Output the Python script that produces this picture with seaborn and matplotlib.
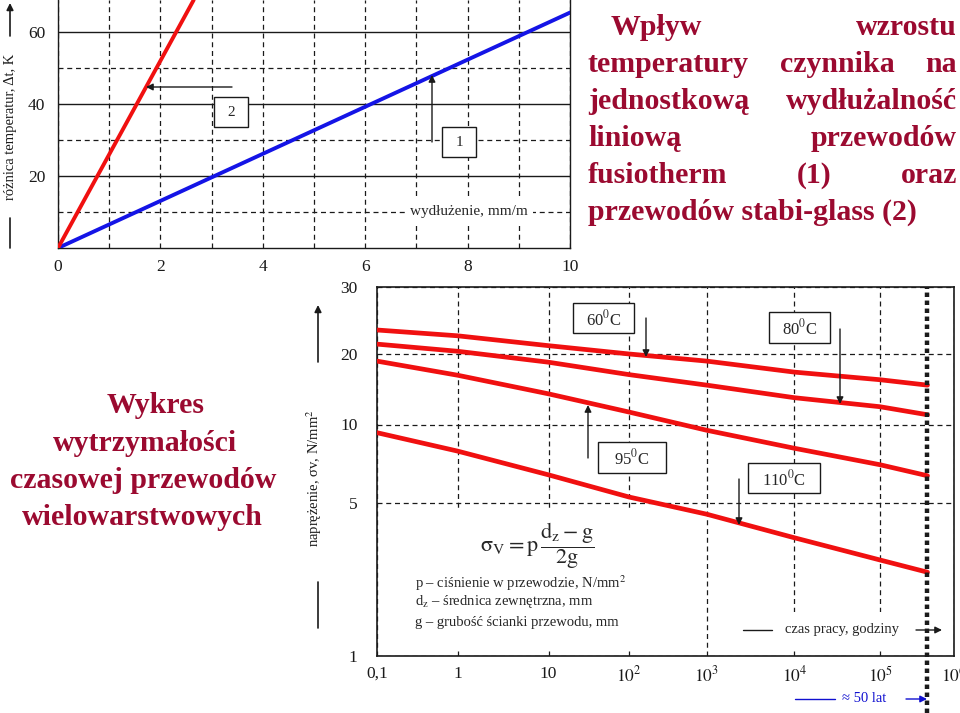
import numpy as np
import pandas as pd
import matplotlib
matplotlib.use('Agg')
import matplotlib.pyplot as plt
from matplotlib.patches import Rectangle
from matplotlib.lines import Line2D
import seaborn as sns

# ---------------- data ----------------
# top chart: temperature difference vs. unit elongation
elongation_fusiotherm = [0.0, 10.0]     # mm/m  (1)
dt_fusiotherm = [0.0, 65.5]             # K
elongation_stabi = [0.0, 2.65]          # mm/m  (2)
dt_stabi = [0.0, 69.0]                  # K
top_xticks = [0, 2, 4, 6, 8, 10]
top_yticks = [20, 40, 60]

# bottom chart: long-term strength of multilayer pipes
hours = [0.1, 1, 10, 100, 1e3, 1e4, 1e5, 4.38e5]
stress_60 = [23.1, 22.3, 21.0, 19.95, 18.6, 16.7, 15.5, 14.7]
stress_80 = [21.2, 20.3, 18.4, 16.3, 14.7, 13.0, 11.9, 11.0]
stress_95 = [18.6, 16.2, 13.5, 11.3, 9.5, 8.1, 7.0, 6.35]
stress_110 = [9.3, 7.9, 6.4, 5.26, 4.43, 3.46, 2.74, 2.41]
temperatures = ['60', '80', '95', '110']
fifty_years_hours = 438000
bottom_xticks = [0.1, 1, 10, 100, 1e3, 1e4, 1e5, 1e6]
bottom_xticklabels = ['0,1', '1', '10', '$10^2$', '$10^3$', '$10^4$', '$10^5$', '$10^6$']
bottom_yticks = [1, 5, 10, 20, 30]
bottom_yticklabels = ['1', '5', '10', '20', '30']

# calibration of the (hand drawn, non-uniform) logarithmic axes of the original
x_cal_log = [-1, 0, 1, 2, 3, 4, 5, 6]
x_cal_pos = [0, 80.6, 171.6, 252, 330, 417.6, 503.3, 577.3]
y_cal_log = [0, np.log10(5), 1, np.log10(20), np.log10(30)]
y_cal_pos = [0, 153.3, 231.5, 302.3, 369]

# ---------------- style ----------------
sns.set_theme(style='white')
plt.rcParams['font.family'] = ['Liberation Serif', 'DejaVu Sans']
plt.rcParams['mathtext.fontset'] = 'stix'
RED = '#f01010'
BLUE = '#1414e6'
TITLE = '#9b0a30'
DASH = (0, (4, 3))

W, H = 960, 713
fig = plt.figure(figsize=(9.6, 7.13), dpi=100)
fig.patch.set_facecolor('white')


def P(px, py):
    return (px / W, 1 - py / H)


def axes_rect(l, t, r, b):
    return [l / W, 1 - b / H, (r - l) / W, (b - t) / H]


def cal_scale(logs, pos):
    logs = np.asarray(logs, float)
    pos = np.asarray(pos, float)
    s0 = (pos[1] - pos[0]) / (logs[1] - logs[0])
    s1 = (pos[-1] - pos[-2]) / (logs[-1] - logs[-2])

    def fwd(v):
        lv = np.log10(np.clip(np.asarray(v, float), 1e-300, None))
        out = np.interp(lv, logs, pos)
        out = np.where(lv < logs[0], pos[0] + (lv - logs[0]) * s0, out)
        out = np.where(lv > logs[-1], pos[-1] + (lv - logs[-1]) * s1, out)
        return out

    def inv(p):
        p = np.asarray(p, float)
        lv = np.interp(p, pos, logs)
        lv = np.where(p < pos[0], logs[0] + (p - pos[0]) / s0, lv)
        lv = np.where(p > pos[-1], logs[-1] + (p - pos[-1]) / s1, lv)
        return 10.0 ** lv

    return fwd, inv


def box(ax, l, t, r, b, **kw):
    x0, y0 = P(l, b)
    x1, y1 = P(r, t)
    ax.add_patch(Rectangle((x0, y0), x1 - x0, y1 - y0, transform=fig.transFigure,
                           clip_on=False, **kw))


def arrow(ax, start, end, color='k', lw=1.0):
    ax.annotate('', xy=P(*end), xytext=P(*start), xycoords='figure fraction',
                textcoords='figure fraction', annotation_clip=False,
                arrowprops=dict(arrowstyle='-|>', color=color, lw=lw,
                                mutation_scale=10, shrinkA=0, shrinkB=0), zorder=6)


def fline(start, end, color='k', lw=1.0):
    fig.add_artist(Line2D([start[0] / W, end[0] / W], [1 - start[1] / H, 1 - end[1] / H],
                          transform=fig.transFigure, color=color, lw=lw))


# ================= top chart =================
ax1 = fig.add_axes(axes_rect(58, 0, 570, 248))
df_top = pd.concat([
    pd.DataFrame({'elong': elongation_fusiotherm, 'dt': dt_fusiotherm, 'pipe': 'fusiotherm'}),
    pd.DataFrame({'elong': elongation_stabi, 'dt': dt_stabi, 'pipe': 'stabi-glass'}),
])
sns.lineplot(data=df_top, x='elong', y='dt', hue='pipe',
             palette={'fusiotherm': BLUE, 'stabi-glass': RED},
             lw=2.8, legend=False, ax=ax1, zorder=4)
ax1.set_xlim(0, 10)
ax1.set_ylim(0, 69)
ax1.set_xticks(top_xticks)
ax1.set_xticks([1, 3, 5, 7, 9], minor=True)
ax1.set_yticks(top_yticks)
ax1.set_yticks([10, 30, 50], minor=True)
ax1.grid(axis='y', which='major', color='k', lw=1.0, ls='-')
ax1.grid(axis='y', which='minor', color='k', lw=0.9, ls=DASH)
ax1.grid(axis='x', which='both', color='k', lw=0.9, ls=DASH)
ax1.tick_params(which='both', length=0, labelsize=12.5, colors='k')
ax1.tick_params(axis='y', pad=9)
ax1.tick_params(axis='x', pad=8)
ax1.set_xlabel('')
ax1.set_ylabel('różnica temperatur, Δt, K', fontsize=10.5, color='k')
ax1.yaxis.set_label_coords(-0.08, 0.49)
for s in ['left', 'right', 'bottom']:
    ax1.spines[s].set_color('k')
    ax1.spines[s].set_linewidth(1.0)
ax1.spines['top'].set_visible(False)

# annotations top
box(ax1, 214, 97, 248, 127, facecolor='white', edgecolor='k', lw=1.0, zorder=5)
ax1.text(*P(231, 112), '2', transform=fig.transFigure, ha='center', va='center',
         fontsize=11, zorder=6)
arrow(ax1, (232, 87), (146, 87))
box(ax1, 442, 127, 476, 157, facecolor='white', edgecolor='k', lw=1.0, zorder=5)
ax1.text(*P(459, 142), '1', transform=fig.transFigure, ha='center', va='center',
         fontsize=11, zorder=6)
arrow(ax1, (432, 142), (432, 75))
ax1.text(*P(469, 211), 'wydłużenie, mm/m', transform=fig.transFigure, ha='center',
         va='center', fontsize=11,
         bbox=dict(facecolor='white', edgecolor='none', pad=4), zorder=5)
# axis label decorations
arrow(ax1, (10, 36), (10, 3), lw=1.2)
fline((10, 218), (10, 248), lw=1.2)

# ================= bottom chart =================
ax2 = fig.add_axes(axes_rect(377, 287, 954, 656))
series = {'60': stress_60, '80': stress_80, '95': stress_95, '110': stress_110}
df_bot = pd.concat([pd.DataFrame({'hours': hours, 'stress': series[t], 'temp': t})
                    for t in temperatures])
sns.lineplot(data=df_bot, x='hours', y='stress', hue='temp',
             palette={t: RED for t in temperatures}, lw=3.4, legend=False,
             ax=ax2, zorder=4)
ax2.set_xscale('function', functions=cal_scale(x_cal_log, x_cal_pos))
ax2.set_yscale('function', functions=cal_scale(y_cal_log, y_cal_pos))
ax2.set_xlim(0.1, 1e6)
ax2.set_ylim(1, 30)
ax2.set_xticks(bottom_xticks, bottom_xticklabels)
ax2.set_yticks(bottom_yticks, bottom_yticklabels)
ax2.minorticks_off()
ax2.grid(which='major', color='k', lw=0.9, ls=DASH)
ax2.tick_params(which='both', length=0, labelsize=12.5, colors='k')
ax2.tick_params(axis='y', pad=14)
ax2.tick_params(axis='x', pad=7)
ax2.set_xlabel('')
ax2.set_ylabel('naprężenie, σv, N/mm$^2$', fontsize=10.5, color='k')
ax2.yaxis.set_label_coords(-0.092, 0.481)
for s in ax2.spines.values():
    s.set_color('k')
    s.set_linewidth(1.2)

# 50 years marker
ax2.axvline(fifty_years_hours, ymin=-(H - 656) / 369, ymax=1, color='k', lw=3.2,
            ls=(0, (1, 0.8)), clip_on=False, zorder=5)

# white areas hiding the grid behind the texts
box(ax2, 440, 508, 645, 648, facecolor='white', edgecolor='none', zorder=1.5)
box(ax2, 738, 612, 916, 649, facecolor='white', edgecolor='none', zorder=1.5)

# formula and legend
ax2.text(*P(537, 546), r'$\mathrm{\sigma_V = p}\,\dfrac{\mathrm{d_z - g}}{\mathrm{2g}}$',
         transform=fig.transFigure, ha='center', va='center', fontsize=16, zorder=6)
ax2.text(*P(415, 588), 'p – ciśnienie w przewodzie, N/mm$^2$', transform=fig.transFigure,
         ha='left', va='baseline', fontsize=10.5, zorder=6)
ax2.text(*P(415, 605), 'd$_\\mathrm{z}$ – średnica zewnętrzna, mm', transform=fig.transFigure,
         ha='left', va='baseline', fontsize=10.5, zorder=6)
ax2.text(*P(415, 626), 'g – grubość ścianki przewodu, mm', transform=fig.transFigure,
         ha='left', va='baseline', fontsize=10.5, zorder=6)

# time axis caption
fline((743, 630), (772, 630))
ax2.text(*P(842, 630), 'czas pracy, godziny', transform=fig.transFigure,
         ha='center', va='center', fontsize=10.5, zorder=6)
arrow(ax2, (916, 630), (942, 630))
fline((795, 699), (835, 699), color='#1010d0')
ax2.text(*P(864, 699), '≈ 50 lat', transform=fig.transFigure, ha='center', va='center',
         fontsize=10.5, color='#1010d0', zorder=6)
arrow(ax2, (906, 699), (927, 699), color='#1010d0')

# temperature labels
temp_boxes = {
    '60': ((573, 303, 634, 333), (646, 318), (646, 357)),
    '80': ((769, 312, 830, 343), (840, 329), (840, 404)),
    '95': ((598, 442, 666, 473), (588, 458), (588, 405)),
    '110': ((748, 463, 820, 493), (739, 479), (739, 525)),
}
for t in temperatures:
    (l, tp, r, b), a0, a1 = temp_boxes[t]
    box(ax2, l, tp, r, b, facecolor='white', edgecolor='k', lw=1.0, zorder=5)
    ax2.text(*P((l + r) / 2, (tp + b) / 2 + 1), t + '$^0$C', transform=fig.transFigure,
             ha='center', va='center', fontsize=12, zorder=6)
    arrow(ax2, a0, a1)

# y-axis label decorations
arrow(ax2, (318, 362), (318, 305), lw=1.2)
fline((318, 582), (318, 628), lw=1.2)

# ================= texts =================
renderer = fig.canvas.get_renderer()
tkw = dict(fontsize=21.5, fontweight='bold', color=TITLE, va='baseline', ha='left',
           family='Liberation Serif')


def justified(words, x0, x1, baseline):
    texts = [fig.text(0, 0, w, **tkw) for w in words]
    widths = [t.get_window_extent(renderer).width for t in texts]
    gap = (x1 - x0 - sum(widths)) / (len(words) - 1)
    x = x0
    for t, w in zip(texts, widths):
        t.set_position(P(x, baseline))
        x += w + gap


title_lines = [
    (['Wpływ', 'wzrostu'], 611, 35),
    (['temperatury', 'czynnika', 'na'], 588, 72),
    (['jednostkową', 'wydłużalność'], 588, 109),
    (['liniową', 'przewodów'], 588, 146),
    (['fusiotherm', '(1)', 'oraz'], 588, 183),
]
for words, x0, bl in title_lines:
    justified(words, x0, 957, bl)
fig.text(*P(588, 220), 'przewodów stabi-glass (2)', **tkw)

left_lines = [('Wykres', 156, 413), ('wytrzymałości', 145, 451),
              ('czasowej przewodów', 143, 488), ('wielowarstwowych', 142.5, 525)]
for txt, cx, bl in left_lines:
    fig.text(*P(cx, bl), txt, **{**tkw, 'ha': 'center'})

fig.savefig('out.png', dpi=100)
